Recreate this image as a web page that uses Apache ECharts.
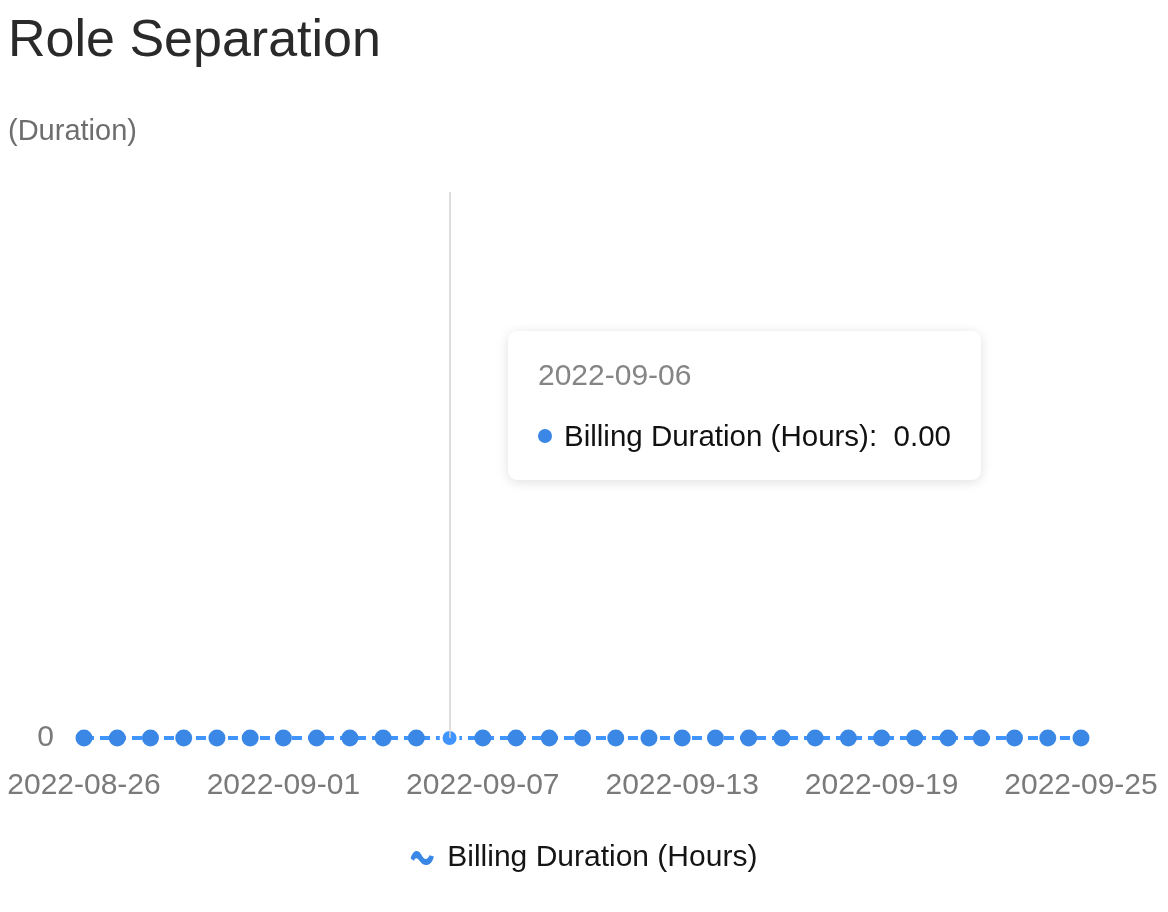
<!DOCTYPE html>
<html>
<head>
<meta charset="utf-8">
<title>Role Separation</title>
<script src="https://cdn.jsdelivr.net/npm/echarts@6/dist/echarts.min.js"></script>
<style>
  html, body { margin: 0; padding: 0; background: #fff; }
  #main { width: 1168px; height: 912px; }
</style>
</head>
<body>
<div id="main"></div>
<script>
// dates on the x axis
var dates = [
  '2022-08-26', '2022-08-27', '2022-08-28', '2022-08-29', '2022-08-30', '2022-08-31',
  '2022-09-01', '2022-09-02', '2022-09-03', '2022-09-04', '2022-09-05', '2022-09-06',
  '2022-09-07', '2022-09-08', '2022-09-09', '2022-09-10', '2022-09-11', '2022-09-12',
  '2022-09-13', '2022-09-14', '2022-09-15', '2022-09-16', '2022-09-17', '2022-09-18',
  '2022-09-19', '2022-09-20', '2022-09-21', '2022-09-22', '2022-09-23', '2022-09-24',
  '2022-09-25'
];
// billing duration (hours), all zero in the picture
var billingHours = [
  0, 0, 0, 0, 0, 0,
  0, 0, 0, 0, 0, 0,
  0, 0, 0, 0, 0, 0,
  0, 0, 0, 0, 0, 0,
  0, 0, 0, 0, 0, 0,
  0
];
var yTicks = [0];
var seriesName = 'Billing Duration (Hours)';
var hoverIndex = 11; // 2022-09-06, where the tooltip is open

var FONT = '"Liberation Sans", Arial, Helvetica, sans-serif';
var BLUE = '#3b87e6';

var myChart = echarts.init(document.getElementById('main'));

myChart.setOption({
  animation: false,
  backgroundColor: '#fff',
  color: [BLUE],
  title: {
    text: 'Role Separation',
    left: 8,
    top: 16,
    padding: 0,
    textStyle: {
      fontFamily: FONT,
      fontSize: 52,
      fontWeight: 'normal',
      color: '#2a2a2a'
    }
  },
  grid: {
    left: 84,
    right: 87,
    top: 192,
    bottom: 174
  },
  tooltip: {
    trigger: 'axis',
    alwaysShowContent: true,
    triggerOn: 'none',
    position: [508, 331],
    backgroundColor: '#fff',
    borderWidth: 0,
    padding: [26, 30, 26, 30],
    extraCssText: 'box-shadow: 0 2px 12px rgba(0,0,0,0.13); border-radius: 9px;',
    axisPointer: {
      type: 'line',
      lineStyle: { color: '#d2d2d2', width: 1.5, type: 'solid' }
    },
    formatter: function (params) {
      var p = params[0];
      return '<div style="font-family:' + FONT.replace(/"/g, "'") + ';">' +
        '<div style="font-size:30px;line-height:36px;color:#858585;">' + p.name + '</div>' +
        '<div style="margin-top:25px;font-size:29.5px;line-height:36px;color:#111;">' +
        '<span style="display:inline-block;width:14px;height:14px;border-radius:7px;background:' + BLUE +
        ';margin-right:12px;vertical-align:middle;position:relative;top:-2px;"></span>' +
        p.seriesName + ':&nbsp;&nbsp;' + Number(p.value).toFixed(2) +
        '</div></div>';
    }
  },
  legend: {
    data: [seriesName],
    left: 'center',
    top: 838,
    icon: 'path://M0,10 C2,2 7,1 10,7 C12,11 15,12 17,7 L21,8 C19,17 12,18 8,12 C6,9 4,9 3,12 Z',
    itemWidth: 24,
    itemHeight: 14,
    textStyle: {
      fontFamily: FONT,
      fontSize: 30,
      color: '#151515',
      padding: [0, 0, 0, 8]
    }
  },
  xAxis: {
    type: 'category',
    boundaryGap: false,
    data: dates,
    axisLine: { show: false },
    axisTick: { show: false },
    axisLabel: {
      interval: 5,
      margin: 33,
      fontFamily: FONT,
      fontSize: 30,
      color: '#7a7a7a'
    },
    splitLine: { show: false }
  },
  yAxis: {
    type: 'value',
    min: yTicks[0],
    max: 1,
    interval: 1,
    name: '(Duration)',
    nameLocation: 'end',
    nameGap: 46,
    nameTextStyle: {
      fontFamily: FONT,
      fontSize: 29,
      color: '#6e6e6e',
      align: 'left',
      padding: [0, 0, 0, -76]
    },
    axisLine: { show: false },
    axisTick: { show: false },
    splitLine: { show: false },
    axisLabel: {
      showMaxLabel: false,
      margin: 30,
      fontFamily: FONT,
      fontSize: 30,
      color: '#7a7a7a'
    }
  },
  series: [
    {
      name: seriesName,
      type: 'line',
      data: billingHours,
      symbol: 'circle',
      symbolSize: 17,
      showSymbol: true,
      lineStyle: { width: 4, type: [10, 6], color: BLUE },
      itemStyle: { color: BLUE },
      emphasis: {
        scale: false,
        itemStyle: { borderColor: '#fff', borderWidth: 3 }
      }
    }
  ]
});

myChart.dispatchAction({ type: 'showTip', seriesIndex: 0, dataIndex: hoverIndex });
</script>
</body>
</html>
